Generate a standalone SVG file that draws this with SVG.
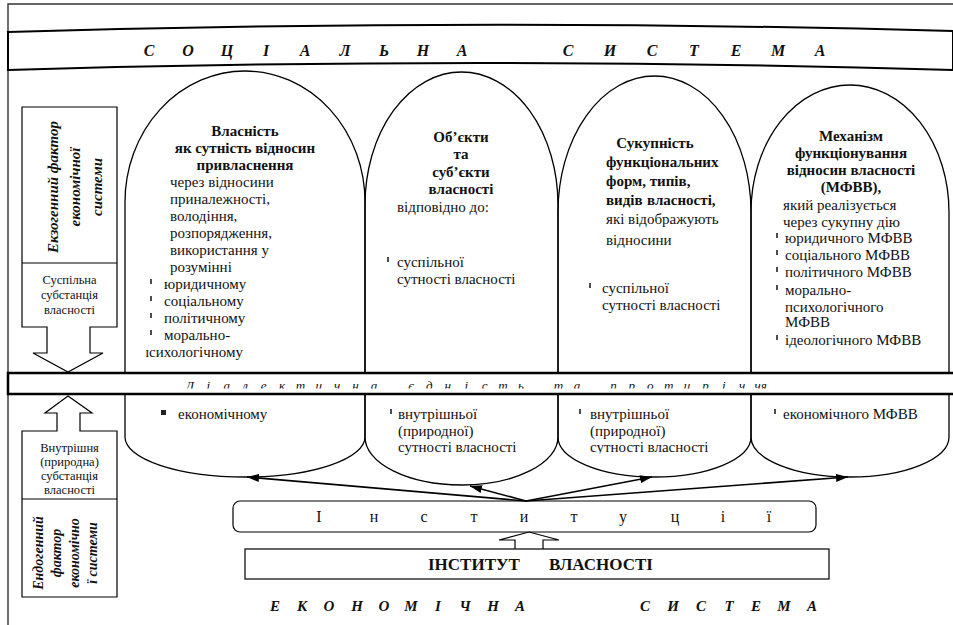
<svg xmlns="http://www.w3.org/2000/svg" width="953" height="625" viewBox="0 0 953 625">
<style>
.t{font-family:"Liberation Serif","Times New Roman",serif;fill:#111}
.r{font-size:15px}
.b{font-size:15px;font-weight:bold}
.c{text-anchor:middle}
.bi{font-style:italic;font-weight:bold}
.it{font-style:italic}
.ln{fill:none;stroke:#000;stroke-width:1.3}
.box{fill:#fff;stroke:#000;stroke-width:1.2}
.tick{fill:#222}
.con{fill:none;stroke:#000;stroke-width:1.6;marker-end:url(#ah)}
</style>
<defs>
<marker id="ah" viewBox="0 0 12 8" refX="12" refY="4" markerWidth="12" markerHeight="8" markerUnits="userSpaceOnUse" orient="auto">
<path d="M0,0 L12,4 L0,8 z" fill="#000"/>
</marker>
<clipPath id="clipPsy"><rect x="146" y="330" width="120" height="40"/></clipPath>
<clipPath id="clipBand"><rect x="10" y="374" width="940" height="14.5"/></clipPath>
<clipPath id="clipA3"><rect x="570" y="440" width="170" height="13.5"/></clipPath>
</defs>
<rect x="0" y="0" width="953" height="625" fill="#fff"/>
<g id="frame">
<path d="M8,625 V4 H953" fill="none" stroke="#333" stroke-width="1.4"/>
</g>
<g id="social-system">
<path d="M8,32 Q480,18 953,31 L953,70 Q480,56 8,70 Z" fill="#fff" stroke="#000" stroke-width="2"/>
<text class="t bi c" font-size="16" y="56" x="149 188 227 266 305 345 384 423 462 515 568 610 652 694 736 778 820">СОЦІАЛЬНА СИСТЕМА</text>
</g>
<g id="arch-1">
<path class="ln" d="M125,372 V202 A120,131 0 0 1 365,202 V372"/>
<path class="ln" d="M125,395 V437 A120,40 0 0 0 365,437 V395"/>
<text class="t b c" x="245" y="136">Власність</text>
<text class="t b c" x="245" y="153">як сутність відносин</text>
<text class="t b c" x="245" y="170">привласнення</text>
<text class="t r" x="170" y="187">через відносини</text>
<text class="t r" x="170" y="204">приналежності,</text>
<text class="t r" x="170" y="221">володіння,</text>
<text class="t r" x="170" y="238">розпорядження,</text>
<text class="t r" x="170" y="255">використання у</text>
<text class="t r" x="170" y="272">розумінні</text>
<rect class="tick" x="150.2" y="279" width="1.6" height="5"/>
<text class="t r" x="164" y="289">юридичному</text>
<rect class="tick" x="150.2" y="296" width="1.6" height="5"/>
<text class="t r" x="164" y="306">соціальному</text>
<rect class="tick" x="150.2" y="313" width="1.6" height="5"/>
<text class="t r" x="164" y="323">політичному</text>
<rect class="tick" x="150.2" y="330" width="1.6" height="5"/>
<text class="t r" x="164" y="340">морально-</text>
<text class="t r" x="141" y="357" clip-path="url(#clipPsy)">психологічному</text>
<rect x="161" y="410" width="5" height="5" fill="#222"/>
<text class="t r" x="178" y="419">економічному</text>
</g>
<g id="arch-2">
<path class="ln" d="M365,372 V205 A96.5,133 0 0 1 558,205 V372"/>
<path class="ln" d="M365,395 V437 A96.5,48 0 0 0 558,437 V395"/>
<text class="t b c" x="461" y="142">Об’єкти</text>
<text class="t b c" x="461" y="159">та</text>
<text class="t b c" x="461" y="177">суб’єкти</text>
<text class="t b c" x="461" y="194">власності</text>
<text class="t r" x="397" y="212">відповідно до:</text>
<rect class="tick" x="387.2" y="257" width="1.6" height="5"/>
<text class="t r" x="397" y="267">суспільної</text>
<text class="t r" x="397" y="284">сутності власності</text>
<rect class="tick" x="390.2" y="409" width="1.6" height="5"/>
<text class="t r" x="398" y="419">внутрішньої</text>
<text class="t r" x="398" y="436">(природної)</text>
<text class="t r" x="398" y="452">сутності власності</text>
</g>
<g id="arch-3">
<path class="ln" d="M558,372 V212 A96.5,136 0 0 1 751,212 V372"/>
<path class="ln" d="M558,395 V437 A96.5,40 0 0 0 751,437 V395"/>
<text class="t b c" x="655" y="148">Сукупність</text>
<text class="t b" x="606" y="167">функціональних</text>
<text class="t b" x="606" y="186">форм, типів,</text>
<text class="t b" x="606" y="205">видів <tspan x="647">власності,</tspan></text>
<text class="t r" x="606" y="224">які відображують</text>
<text class="t r" x="606" y="245">відносини</text>
<rect class="tick" x="589.2" y="283" width="1.6" height="5"/>
<text class="t r" x="602" y="293">суспільної</text>
<text class="t r" x="602" y="310">сутності власності</text>
<rect class="tick" x="579.2" y="409" width="1.6" height="5"/>
<text class="t r" x="590" y="419">внутрішньої</text>
<text class="t r" x="590" y="436">(природної)</text>
<text class="t r" x="590" y="452" clip-path="url(#clipA3)">сутності власності</text>
</g>
<g id="arch-4">
<path class="ln" d="M751,372 V212 A99,127 0 0 1 949,212 V372"/>
<path class="ln" d="M751,395 V437 A99,40 0 0 0 949,437 V395"/>
<text class="t b c" x="851" y="141">Механізм</text>
<text class="t b c" x="851" y="158">функціонування</text>
<text class="t b c" x="851" y="175">відносин власності</text>
<text class="t b c" x="851" y="192">(МФВВ),</text>
<text class="t r" x="783" y="210">який реалізується</text>
<text class="t r" x="783" y="227">через сукупну дію</text>
<rect class="tick" x="776.2" y="233" width="1.6" height="5"/>
<text class="t r" x="785" y="243">юридичного МФВВ</text>
<rect class="tick" x="776.2" y="250" width="1.6" height="5"/>
<text class="t r" x="785" y="260">соціального МФВВ</text>
<rect class="tick" x="776.2" y="267" width="1.6" height="5"/>
<text class="t r" x="785" y="277">політичного МФВВ</text>
<rect class="tick" x="776.2" y="285" width="1.6" height="5"/>
<text class="t r" x="785" y="295">морально-</text>
<text class="t r" x="785" y="312">психологічного</text>
<text class="t r" x="785" y="327">МФВВ</text>
<rect class="tick" x="776.2" y="335" width="1.6" height="5"/>
<text class="t r" x="785" y="345">ідеологічного МФВВ</text>
<rect class="tick" x="774.2" y="409" width="1.6" height="5"/>
<text class="t r" x="783" y="419">економічного МФВВ</text>
</g>
<g id="dialectic-band">
<rect x="8" y="373" width="950" height="21" fill="#fff" stroke="#000" stroke-width="2.5"/>
<text class="t it c" font-size="13" y="390" clip-path="url(#clipBand)" x="190 208.4 226.8 245.2 263.6 282 300.4 318.8 337.2 355.6 374 392 411 429.4 447.8 466.2 484.6 503 521 540 558.4 577 595 613.4 631.8 650.2 668.6 687 705.4 723.8 742.2 760.6">Діалектична єдність та протиріччя</text>
</g>
<g id="exogenous-factor">
<path class="box" d="M22,107 H117 V327 H90 V353 H103 L68,372 L33,353 H47 V327 H22 Z"/>
<line x1="22" y1="263" x2="117" y2="263" stroke="#000" stroke-width="1.2"/>
<text class="t bi c" font-size="15" transform="translate(58,187) rotate(-90)">Екзогенний фактор</text>
<text class="t bi c" font-size="15" transform="translate(80,187) rotate(-90)">економічної</text>
<text class="t bi c" font-size="15" transform="translate(102,187) rotate(-90)">системи</text>
<text class="t c" font-size="12.5" x="69.5" y="284">Суспільна</text>
<text class="t c" font-size="12.5" x="69.5" y="299">субстанція</text>
<text class="t c" font-size="12.5" x="69.5" y="314">власності</text>
</g>
<g id="endogenous-factor">
<path class="box" d="M22,597 H117 V431 H80 V413 H92 L68,396 L45,413 H57 V431 H22 Z"/>
<line x1="22" y1="499" x2="117" y2="499" stroke="#000" stroke-width="1.2"/>
<text class="t c" font-size="12.5" x="69.5" y="452">Внутрішня</text>
<text class="t c" font-size="12.5" x="69.5" y="466">(природна)</text>
<text class="t c" font-size="12.5" x="69.5" y="480">субстанція</text>
<text class="t c" font-size="12.5" x="69.5" y="494">власності</text>
<text class="t bi c" font-size="14" transform="translate(43,553) rotate(-90)">Ендогенний</text>
<text class="t bi c" font-size="14" transform="translate(61,553) rotate(-90)">фактор</text>
<text class="t bi c" font-size="14" transform="translate(79,553) rotate(-90)">економічно</text>
<text class="t bi c" font-size="14" transform="translate(97,553) rotate(-90)">ї системи</text>
</g>
<g id="institutions">
<rect class="box" x="233" y="501" width="583" height="31" rx="7"/>
<text class="t c" font-size="16" y="522" x="319 374 424 474 524 574 623 675 723 769">Інституції</text>
</g>
<g id="property-institute">
<path class="box" d="M515,549 V540 H499 L529,532 L559,540 H543 V549"/>
<rect class="box" x="245" y="549" width="584" height="30"/>
<text class="t" font-size="17" font-weight="bold" x="428" y="570">ІНСТИТУТ <tspan x="549">ВЛАСНОСТІ</tspan></text>
</g>
<g id="economic-system">
<text class="t bi c" font-size="15" y="611" x="275 302 329 357 384 411 438 465 493 520 580 645 673 701 729 756 784 812">ЕКОНОМІЧНА СИСТЕМА</text>
</g>
<g id="connectors">
<line class="con" x1="526" y1="501" x2="247" y2="477"/>
<line class="con" x1="526" y1="501" x2="470" y2="486"/>
<line class="con" x1="526" y1="501" x2="652" y2="477"/>
<line class="con" x1="526" y1="501" x2="848" y2="477"/>
</g>
</svg>
